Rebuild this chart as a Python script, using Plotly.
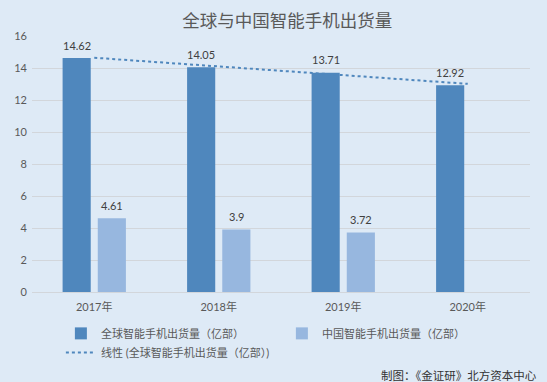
import numpy as np
import plotly.graph_objects as go

categories = ["2017年", "2018年", "2019年", "2020年"]
global_vals = [14.62, 14.05, 13.71, 12.92]
china_vals = [4.61, 3.9, 3.72, None]
y_ticks = [0, 2, 4, 6, 8, 10, 12, 14, 16]

title_text = "全球与中国智能手机出货量"
name_global = "全球智能手机出货量（亿部）"
name_china = "中国智能手机出货量（亿部）"
name_trend = "线性 (全球智能手机出货量（亿部）)"
source_text = "制图：《金证研》北方资本中心"

FONT = "Lato, 'Noto Sans CJK SC', sans-serif"
DARK = "#4F87BD"
LIGHT = "#97B7DF"
BG = "#DEEAF6"

# linear trendline of the global series (least squares, as Excel does)
xi = np.arange(len(global_vals))
slope, intercept = np.polyfit(xi, np.array(global_vals, dtype=float), 1)
trend = [intercept + slope * k for k in xi]

fig = go.Figure()
fig.add_trace(go.Bar(x=categories, y=global_vals, name=name_global,
                     marker=dict(color=DARK, line=dict(width=0))))
fig.add_trace(go.Bar(x=categories, y=china_vals, name=name_china,
                     marker=dict(color=LIGHT, line=dict(width=0))))
fig.add_trace(go.Scatter(x=categories, y=trend, name=name_trend, mode="lines",
                         line=dict(color=DARK, width=2, dash="dot")))

annotations = []
for c, v in zip(categories, global_vals):
    annotations.append(dict(x=c, y=v, text=f"{v:g}", showarrow=False, xshift=-17.5,
                            yshift=13, font=dict(size=11, color="#404040", family=FONT)))
for c, v in zip(categories, china_vals):
    if v is None:
        continue
    annotations.append(dict(x=c, y=v, text=f"{v:g}", showarrow=False, xshift=17.5,
                            yshift=13, font=dict(size=11, color="#404040", family=FONT)))
annotations.append(dict(x=1, xref="paper", xanchor="right", xshift=9, y=0, yref="paper",
                        yanchor="middle", yshift=-83, text=source_text, showarrow=False,
                        font=dict(size=11.5, color="#333333", family=FONT)))

fig.update_layout(
    width=547, height=382,
    margin=dict(l=32, r=17, t=36, b=90, autoexpand=False),
    paper_bgcolor=BG, plot_bgcolor=BG,
    barmode="group", bargap=0.435, bargroupgap=0.2,
    title=dict(text=title_text, x=0.525, xanchor="center", y=0.945, yanchor="middle",
               font=dict(size=17.5, color="#595959", family=FONT)),
    font=dict(family=FONT, size=11, color="#595959"),
    xaxis=dict(showgrid=False, ticks="", showline=False, zeroline=False, automargin=False,
               tickfont=dict(size=11, color="#595959"), range=[-0.5, 3.5],
               ticklabelstandoff=7),
    yaxis=dict(range=[0, 16], tickvals=y_ticks, showgrid=True, gridcolor="#D2D6DB",
               gridwidth=1, zeroline=True, zerolinecolor="#D2D6DB", zerolinewidth=1,
               automargin=False,
               ticks="", tickfont=dict(size=11, color="#595959"), ticklabelstandoff=4),
    legend=dict(orientation="h", x=0.058, xanchor="left", y=-0.105, yanchor="top",
                entrywidth=176, entrywidthmode="pixels", tracegroupgap=0,
                font=dict(size=11, color="#595959", family=FONT), bgcolor="rgba(0,0,0,0)"),
    annotations=annotations,
)

fig.write_html("out.html", config=dict(displayModeBar=False),
               post_script="document.body.style.margin='0';document.body.style.overflow='hidden';")
